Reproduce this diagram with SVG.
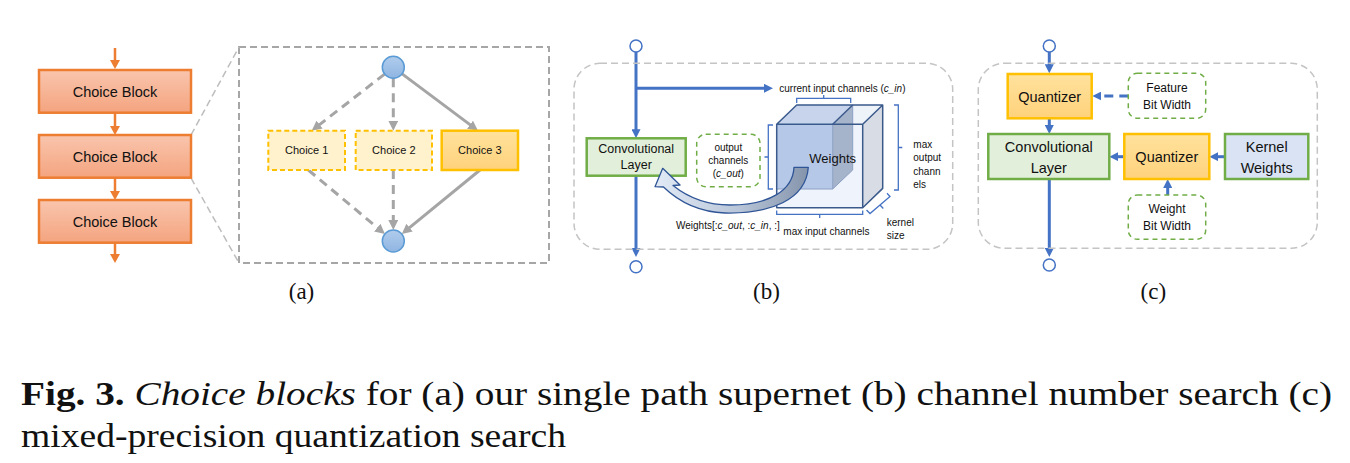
<svg xmlns="http://www.w3.org/2000/svg" width="1350" height="463" viewBox="0 0 1350 463">
<defs>
<linearGradient id="gOrange" x1="0" y1="0" x2="0" y2="1"><stop offset="0" stop-color="#F9C5AD"/><stop offset="1" stop-color="#F4A47F"/></linearGradient>
<linearGradient id="gYellow" x1="0" y1="0" x2="0" y2="1"><stop offset="0" stop-color="#FFE29C"/><stop offset="1" stop-color="#FFD27C"/></linearGradient>
<linearGradient id="gCircle" x1="0" y1="0" x2="0" y2="1"><stop offset="0" stop-color="#B0CCEC"/><stop offset="1" stop-color="#8FB5E2"/></linearGradient>
<linearGradient id="gCurve" x1="0" y1="0" x2="1" y2="0"><stop offset="0" stop-color="#E2EAF6"/><stop offset="0.55" stop-color="#B8C5D8"/><stop offset="1" stop-color="#8494AB"/></linearGradient>
<marker id="mOrange" markerUnits="userSpaceOnUse" markerWidth="10" markerHeight="10" refX="2" refY="5" orient="auto"><path d="M0,0 L9,5 L0,10 z" fill="#ED7D31"/></marker>
<marker id="mGray" markerUnits="userSpaceOnUse" markerWidth="10" markerHeight="10" refX="2" refY="5" orient="auto"><path d="M0,0 L10,5 L0,10 z" fill="#A5A5A5"/></marker>
<marker id="mBlue" markerUnits="userSpaceOnUse" markerWidth="9" markerHeight="9" refX="2" refY="4.5" orient="auto"><path d="M0,0 L9,4.5 L0,9 z" fill="#4472C4"/></marker>
<style>
.sans{font-family:"Liberation Sans",Arial,sans-serif;fill:#111}
.serif{font-family:"Liberation Serif","Times New Roman",serif;fill:#111}
.cb{fill:url(#gOrange);stroke:#ED7D31;stroke-width:2.5}
.ch{fill:#FFF2CC;stroke:#FFC000;stroke-width:2;stroke-dasharray:5 3}
.chs{fill:url(#gYellow);stroke:#FFC000;stroke-width:2.5}
.qz{fill:url(#gYellow);stroke:#FFC000;stroke-width:2.5}
.conv{fill:#E2EFDA;stroke:#70AD47;stroke-width:2.5}
.kw{fill:#DAE3F3;stroke:#70AD47;stroke-width:2.5}
.gd{fill:#fff;stroke:#70AD47;stroke-width:1.5;stroke-dasharray:5 4}
.cont{fill:none;stroke:#C4C4C4;stroke-width:1.5;stroke-dasharray:7 4}
.oa{stroke:#ED7D31;stroke-width:2.5;fill:none;marker-end:url(#mOrange)}
.ga{stroke:#A5A5A5;stroke-width:3;fill:none;marker-end:url(#mGray)}
.gad{stroke:#A5A5A5;stroke-width:3;fill:none;stroke-dasharray:9 6;marker-end:url(#mGray)}
.ba{stroke:#4472C4;stroke-width:3;fill:none;marker-end:url(#mBlue)}
.br{stroke:#4472C4;stroke-width:1.3;fill:none}
.oc{fill:#fff;stroke:#4472C4;stroke-width:1.5}
.bc{fill:url(#gCircle);stroke:#5B9BD5;stroke-width:1.5}
.edge{stroke:#3B5A8C;stroke-width:1.5;fill:none;stroke-linejoin:round}
</style>
</defs>
<rect width="1350" height="463" fill="#fff"/>

<!-- Panel (a) -->
<g id="a-zoom-frame">
<rect x="239" y="47" width="310" height="216" fill="none" stroke="#A6A6A6" stroke-width="2" stroke-dasharray="7 4"/>
<line x1="191" y1="135" x2="239" y2="47" stroke="#BDBDBD" stroke-width="1.5" stroke-dasharray="7 4"/>
<line x1="191" y1="178" x2="239" y2="263" stroke="#BDBDBD" stroke-width="1.5" stroke-dasharray="7 4"/>
</g>
<g id="connectors">
<line class="oa" x1="115" y1="48" x2="115" y2="62"/>
<line class="oa" x1="115" y1="112.7" x2="115" y2="128"/>
<line class="oa" x1="115" y1="177.7" x2="115" y2="193"/>
<line class="oa" x1="115" y1="242.7" x2="115" y2="256"/>
<line class="gad" x1="384.6" y1="74.1" x2="318" y2="125.8"/>
<line class="gad" x1="393.3" y1="78.3" x2="393.3" y2="122.7"/>
<line class="ga" x1="402.1" y1="73.9" x2="471.6" y2="125.9"/>
<line class="gad" x1="308.3" y1="170" x2="378.8" y2="228.9"/>
<line class="gad" x1="393.3" y1="170" x2="393.3" y2="222"/>
<line class="ga" x1="480" y1="170" x2="408" y2="228.9"/>
<!-- panel b -->
<line class="ba" x1="636" y1="52" x2="636" y2="131.3"/>
<polyline class="ba" points="636,88.3 766,88.3"/>
<line class="ba" x1="636" y1="175.7" x2="636" y2="250"/>
<!-- panel c -->
<line class="ba" x1="1049.3" y1="52" x2="1049.3" y2="66.3"/>
<line class="ba" x1="1128.3" y1="96" x2="1099.3" y2="96" stroke-dasharray="9 6"/>
<line class="ba" x1="1049.3" y1="118.3" x2="1049.3" y2="127"/>
<line class="ba" x1="1225" y1="156.7" x2="1216.3" y2="156.7"/>
<line class="ba" x1="1124.3" y1="156.7" x2="1116.3" y2="156.7"/>
<line class="ba" x1="1167.7" y1="195" x2="1167.7" y2="186"/>
<line class="ba" x1="1049.3" y1="179" x2="1049.3" y2="250"/>
</g>

<g id="choice-block-1"><rect class="cb" x="39" y="70" width="152" height="42.7"/><text class="sans" x="115" y="96.5" font-size="14.5" text-anchor="middle">Choice Block</text></g>
<g id="choice-block-2"><rect class="cb" x="39" y="135" width="152" height="42.7"/><text class="sans" x="115" y="161.5" font-size="14.5" text-anchor="middle">Choice Block</text></g>
<g id="choice-block-3"><rect class="cb" x="39" y="200" width="152" height="42.7"/><text class="sans" x="115" y="226.5" font-size="14.5" text-anchor="middle">Choice Block</text></g>

<g id="node-in-a"><circle class="bc" cx="393.3" cy="67.3" r="11"/></g>
<g id="node-out-a"><circle class="bc" cx="393.3" cy="241" r="11"/></g>
<g id="choice-1"><rect class="ch" x="268.3" y="130.7" width="76.7" height="39.3"/><text class="sans" x="306.7" y="154.3" font-size="11" text-anchor="middle">Choice 1</text></g>
<g id="choice-2"><rect class="ch" x="355.7" y="130.7" width="76.3" height="39.3"/><text class="sans" x="393.8" y="154.3" font-size="11" text-anchor="middle">Choice 2</text></g>
<g id="choice-3"><rect class="chs" x="441.7" y="130.7" width="76.3" height="39.3"/><text class="sans" x="479.8" y="154.3" font-size="11" text-anchor="middle">Choice 3</text></g>
<text class="serif" x="301.5" y="299" font-size="23" text-anchor="middle">(a)</text>

<!-- Panel (b) -->
<g id="b-container"><rect class="cont" x="574" y="63.3" width="378.7" height="186" rx="26"/></g>
<g id="b-node-in"><circle class="oc" cx="636" cy="46" r="6"/></g>
<g id="b-node-out"><circle class="oc" cx="636" cy="266.7" r="6"/></g>
<g id="b-conv"><rect class="conv" x="586.7" y="138.3" width="99" height="37.4"/><text class="sans" x="636.2" y="152.5" font-size="12.5" text-anchor="middle">Convolutional</text><text class="sans" x="636.2" y="169" font-size="12.5" text-anchor="middle">Layer</text></g>
<g id="b-output-channels"><rect class="gd" x="696.7" y="134.3" width="63.3" height="52.4" rx="9"/>
<text class="sans" x="728.3" y="151" font-size="10" text-anchor="middle">output</text>
<text class="sans" x="728.3" y="164" font-size="10" text-anchor="middle">channels</text>
<text class="sans" x="728.3" y="177" font-size="10" text-anchor="middle">(<tspan font-style="italic">c_out</tspan>)</text></g>
<text class="sans" x="779.3" y="91.5" font-size="10">current input channels (<tspan font-style="italic">c_in</tspan>)</text>

<g id="b-weights-cube">
<polygon points="776.7,124.3 796.7,105 882.7,105 862.7,124.3" fill="#EEF2F9"/>
<polygon points="862.7,124.3 882.7,105 882.7,188.4 862.7,207.7" fill="#D8DCE4"/>
<rect x="776.7" y="124.3" width="86" height="83.4" fill="#EFF3FB"/>
<polygon points="776.7,124.3 796.7,105 852.7,105 832.7,124.3" fill="#C7D4EC"/>
<polygon points="832.7,124.3 852.7,105 852.7,170 832.7,189" fill="#A5B3CB"/>
<rect x="776.7" y="124.3" width="56" height="64.7" fill="#B6C8E7"/>
<path d="M776.7,189 L832.7,189 L852.7,170 L852.7,105 M832.7,124.3 L832.7,189" stroke="#8CA0C4" stroke-width="1" fill="none"/>
<path class="edge" d="M776.7,124.3 L796.7,105 L882.7,105 L862.7,124.3 Z M862.7,124.3 L862.7,207.7 L882.7,188.4 L882.7,105 M776.7,124.3 L776.7,207.7 L862.7,207.7"/>
<path class="edge" d="M832.7,124.3 L852.7,105" stroke-width="1.2"/>
</g>
<g id="b-brackets">
<path class="br" d="M796.7,103 L796.7,98.3 L850.7,98.3 L850.7,103 M823.7,98.3 L823.7,95"/>
<path class="br" d="M773,125 L768.3,125 L768.3,189 L773,189 M768.3,157 L764.5,157"/>
<path class="br" d="M894,105 L898.3,105 L898.3,190 L894,190 M898.3,147.5 L902.3,147.5"/>
<path class="br" d="M776.7,210.5 L776.7,214.3 L862.7,214.3 L862.7,210.5 M819.7,214.3 L819.7,218"/>
<path class="br" d="M866.5,210 L870,213.5 L890,196.5 L887,193.3 M880,205 L883.3,208.5"/>
</g>
<g id="b-curved-arrow"><path d="M662.7,168.3 L680,185 L673,185.5 C690,199 710,205 730,205 C770,205 793,190 794,167.3 L808.3,167.3 C806,200 770,214 725,213 C700,212 680,203 663.5,187 L655,186.7 Z" fill="url(#gCurve)" stroke="#2F5597" stroke-width="1.3" stroke-linejoin="round"/></g>
<text class="sans" x="809.3" y="163.3" font-size="13">Weights</text>
<text class="sans" x="913.3" y="147.5" font-size="10">max</text>
<text class="sans" x="913.3" y="161" font-size="10">output</text>
<text class="sans" x="913.3" y="174.5" font-size="10">chann</text>
<text class="sans" x="913.3" y="188" font-size="10">els</text>
<text class="sans" x="886.7" y="226" font-size="10">kernel</text>
<text class="sans" x="886.7" y="238.5" font-size="10">size</text>
<text class="sans" x="676" y="228.5" font-size="10">Weights[:<tspan font-style="italic">c_out</tspan>, :<tspan font-style="italic">c_in</tspan>, :]</text>
<text class="sans" x="783.3" y="234.5" font-size="10">max input channels</text>
<text class="serif" x="766.5" y="299" font-size="23" text-anchor="middle">(b)</text>

<!-- Panel (c) -->
<g id="c-container"><rect class="cont" x="978.3" y="63.3" width="339" height="185" rx="26"/></g>
<g id="c-node-in"><circle class="oc" cx="1049.3" cy="46" r="6"/></g>
<g id="c-node-out"><circle class="oc" cx="1049.3" cy="265" r="6"/></g>
<g id="c-quantizer-1"><rect class="qz" x="1007.7" y="74" width="84" height="44.3"/><text class="sans" x="1049.7" y="101.5" font-size="14.5" text-anchor="middle">Quantizer</text></g>
<g id="c-feature-bit-width"><rect class="gd" x="1128.3" y="73.3" width="77.4" height="45" rx="9"/><text class="sans" x="1167" y="92" font-size="12" text-anchor="middle">Feature</text><text class="sans" x="1167" y="108.5" font-size="12" text-anchor="middle">Bit Width</text></g>
<g id="c-conv"><rect class="conv" x="988.3" y="134" width="121" height="45"/><text class="sans" x="1048.8" y="152" font-size="14.5" text-anchor="middle">Convolutional</text><text class="sans" x="1048.8" y="172.5" font-size="14.5" text-anchor="middle">Layer</text></g>
<g id="c-quantizer-2"><rect class="qz" x="1124.3" y="134" width="85" height="45"/><text class="sans" x="1166.8" y="161.8" font-size="14.5" text-anchor="middle">Quantizer</text></g>
<g id="c-kernel-weights"><rect class="kw" x="1225" y="134" width="83.3" height="45"/><text class="sans" x="1266.7" y="152" font-size="14.5" text-anchor="middle">Kernel</text><text class="sans" x="1266.7" y="172.5" font-size="14.5" text-anchor="middle">Weights</text></g>
<g id="c-weight-bit-width"><rect class="gd" x="1128.3" y="195" width="77.4" height="44.3" rx="9"/><text class="sans" x="1167" y="213" font-size="12" text-anchor="middle">Weight</text><text class="sans" x="1167" y="229.5" font-size="12" text-anchor="middle">Bit Width</text></g>
<text class="serif" x="1153.3" y="299" font-size="23" text-anchor="middle">(c)</text>

<!-- Caption -->
<text class="serif" x="21" y="405" font-size="33" textLength="1311" lengthAdjust="spacingAndGlyphs"><tspan font-weight="bold">Fig. 3.</tspan> <tspan font-style="italic">Choice blocks</tspan> for (a) our single path supernet (b) channel number search (c)</text>
<text class="serif" x="21" y="447" font-size="33" textLength="545" lengthAdjust="spacingAndGlyphs">mixed-precision quantization search</text>
</svg>
